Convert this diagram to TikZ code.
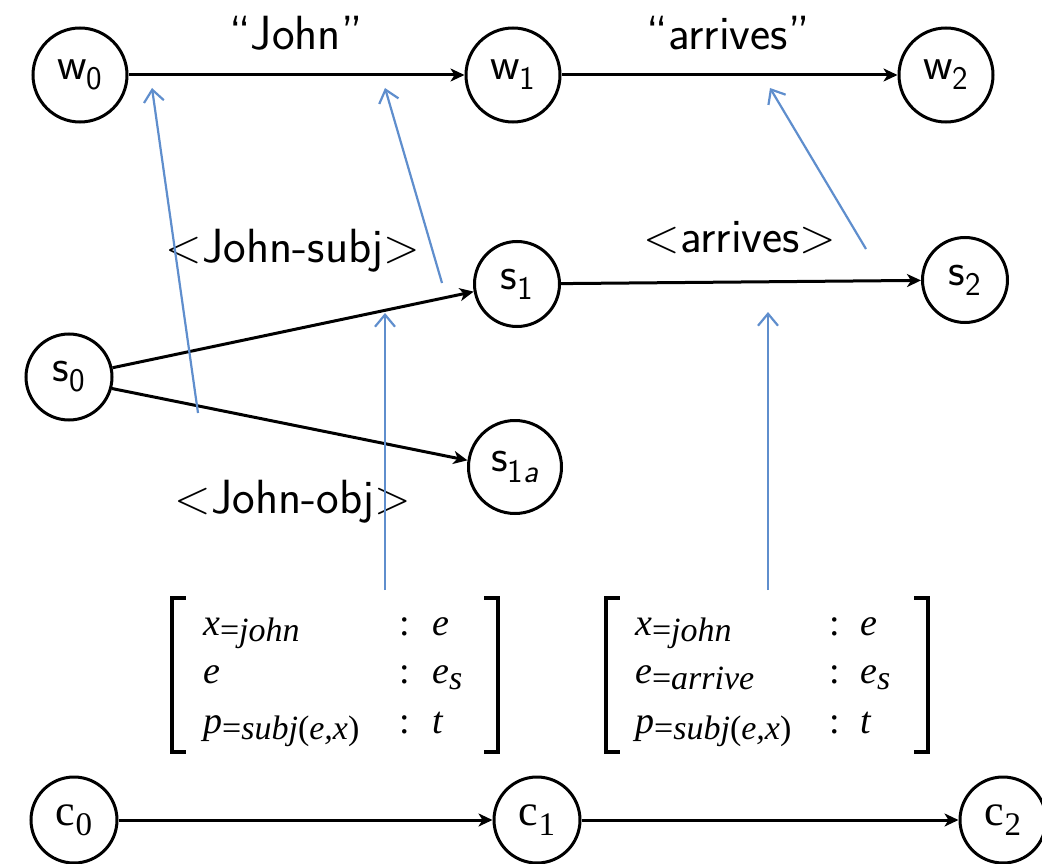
\documentclass[tikz,border=0pt]{standalone}
\usepackage{fontspec}
\newfontfamily\tms{Liberation Serif}
\usetikzlibrary{arrows.meta}
\definecolor{bluearr}{RGB}{95,142,205}
\newcommand{\ssub}[1]{\raisebox{-0.22em}{\fontsize{33}{33}\selectfont #1}}
\newcommand{\msub}[1]{\raisebox{-6pt}{\fontsize{34}{34}\selectfont #1}}
\newcommand{\lt}{{\rmfamily<}}
\newcommand{\gt}{{\rmfamily>}}
\begin{document}
\begin{tikzpicture}[x=1pt,y=-1pt,
  st/.style={circle,draw,line width=3pt,inner sep=0pt,font=\fontsize{46}{52}\selectfont\sffamily},
  cst/.style={circle,draw,line width=3pt,inner sep=0pt,minimum size=86pt,font=\fontsize{44}{50}\selectfont\tms},
  elab/.style={font=\fontsize{48}{56}\selectfont\sffamily,anchor=base,inner sep=0pt},
  mcell/.style={font=\fontsize{38}{44}\selectfont\tms\itshape,anchor=base west,inner sep=0pt},
  mcol/.style={font=\fontsize{38}{44}\selectfont\tms,anchor=base,inner sep=0pt},
  blk/.style={line width=3pt,-{Stealth[length=14pt,width=13pt,inset=4pt]}},
  blu/.style={line width=2.2pt,bluearr,-{Straight Barb[length=12pt,width=20pt]}},
  brk/.style={line width=3.2pt,line cap=rect}]
\useasboundingbox (0,0) rectangle (1042,864);

% word layer
\node[st,minimum size=94pt] (w0) at (80,75) {w\ssub{0}};
\node[st,minimum size=94pt] (w1) at (513,75) {w\ssub{1}};
\node[st,minimum size=94pt] (w2) at (946,75) {w\ssub{2}};
\draw[blk] (w0) -- (w1);
\draw[blk] (w1) -- (w2);
\node[elab] (ljohn) at (296,50) {``John''};
\node[elab] (larr) at (728,50) {``arrives''};

% state layer
\node[st,minimum size=86pt] (s0) at (69,377) {s\ssub{0}};
\node[st,minimum size=85pt] (s1) at (517,284) {s\ssub{1}};
\node[st,minimum size=85pt] (s2) at (965,280) {s\ssub{2}};
\node[st,minimum size=93pt] (s1a) at (515,467) {s\ssub{1\textit{a}}};
\draw[blk] (s0.12) -- (s1.190);
\draw[blk] (s0.-15) -- (s1a.172);
\draw[blk] (s1) -- (s2);
\node[elab] (lsubj) at (293,262) {\lt John-subj\gt};
\node[elab] (lobj) at (293,513) {\lt John-obj\gt};
\node[elab] (larr2) at (740,252) {\lt arrives\gt};

% blue connections
\coordinate (b1s) at (198,413); \coordinate (b1e) at (152,88);
\coordinate (b2s) at (442,283); \coordinate (b2e) at (385,88);
\coordinate (b3s) at (866,249); \coordinate (b3e) at (770,88);
\coordinate (b4s) at (385,590); \coordinate (b4e) at (385,313);
\coordinate (b5s) at (768,590); \coordinate (b5e) at (768,312);
\draw[blu] (b1s) -- (b1e);
\draw[blu] (b2s) -- (b2e);
\draw[blu] (b3s) -- (b3e);
\draw[blu] (b4s) -- (b4e);
\draw[blu] (b5s) -- (b5e);

% left record
\draw[brk] (184,598) -- (172,598) -- (172,752) -- (184,752);
\draw[brk] (486,598) -- (498,598) -- (498,752) -- (486,752);
\node[mcell] (a11) at (203,635) {x\msub{{\upshape=}john}};
\node[mcol] (a12) at (405,635) {:};
\node[mcell] (a13) at (432,635) {e};
\node[mcell] (a21) at (203,683) {e};
\node[mcol] (a22) at (405,683) {:};
\node[mcell] (a23) at (432,683) {e\msub{s}};
\node[mcell] (a31) at (203,733) {p\msub{{\upshape=}subj{\upshape(}e,x{\upshape)}}};
\node[mcol] (a32) at (405,733) {:};
\node[mcell] (a33) at (432,733) {t};

% right record
\draw[brk] (618,598) -- (606,598) -- (606,752) -- (618,752);
\draw[brk] (916,598) -- (928,598) -- (928,752) -- (916,752);
\node[mcell] (r11) at (635,635) {x\msub{{\upshape=}john}};
\node[mcol] (r12) at (835,635) {:};
\node[mcell] (r13) at (860,635) {e};
\node[mcell] (r21) at (635,683) {e\msub{{\upshape=}arrive}};
\node[mcol] (r22) at (835,683) {:};
\node[mcell] (r23) at (860,683) {e\msub{s}};
\node[mcell] (r31) at (635,733) {p\msub{{\upshape=}subj{\upshape(}e,x{\upshape)}}};
\node[mcol] (r32) at (835,733) {:};
\node[mcell] (r33) at (860,733) {t};

% context layer
\node[cst] (c0) at (74,820) {c\ssub{0}};
\node[cst] (c1) at (537,820) {c\ssub{1}};
\node[cst] (c2) at (1003,820) {c\ssub{2}};
\draw[blk] (c0) -- (c1);
\draw[blk] (c1) -- (c2);
\end{tikzpicture}
\end{document}
